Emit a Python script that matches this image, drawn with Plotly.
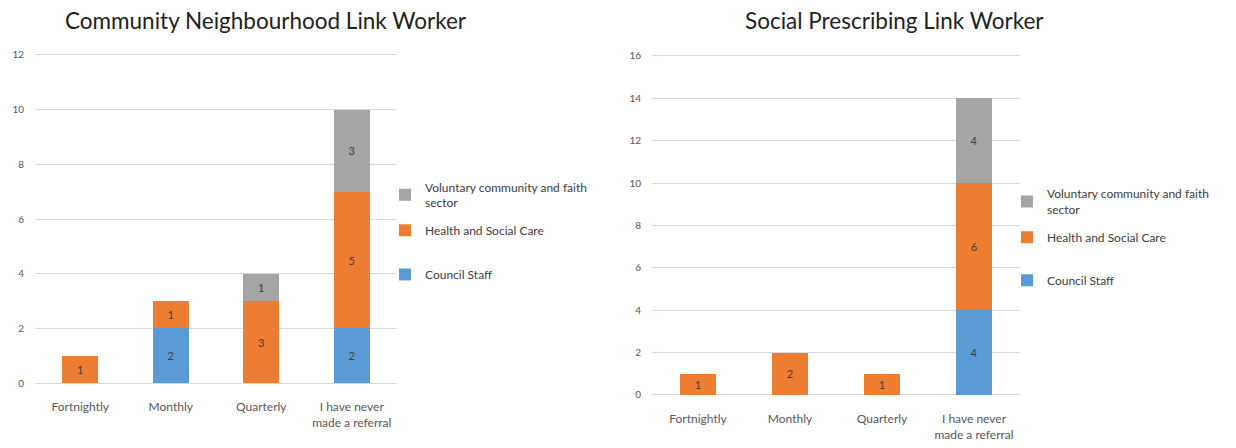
import plotly.graph_objects as go

# Referral frequency categories (x axis)
categories = ["Fortnightly", "Monthly", "Quarterly", "I have never<br>made a referral"]

# Community Neighbourhood Link Worker – respondents by sector
cnlw_council = [None, 2, None, 2]
cnlw_health = [1, 1, 3, 5]
cnlw_voluntary = [None, None, 1, 3]

# Social Prescribing Link Worker – respondents by sector
splw_council = [None, None, None, 4]
splw_health = [1, 2, 1, 6]
splw_voluntary = [None, None, None, 4]

series_names = ["Council Staff", "Health and Social Care", "Voluntary community and faith<br>sector"]
series_colors = ["#5B9BD5", "#ED7D31", "#A5A5A5"]

FONT = "Lato"
W, H = 1236, 448


def px_x(v):
    return v / W


def px_y(v):
    return 1 - v / H


fig = go.Figure()

panels = [
    ("x", "y", [cnlw_council, cnlw_health, cnlw_voluntary], ["legend", "legend2", "legend3"]),
    ("x2", "y2", [splw_council, splw_health, splw_voluntary], ["legend4", "legend5", "legend6"]),
]

for xa, ya, series, legends in panels:
    for name, color, vals, lg in zip(series_names, series_colors, series, legends):
        fig.add_trace(go.Bar(
            x=categories, y=vals, name=name, xaxis=xa, yaxis=ya,
            marker=dict(color=color, line=dict(width=0)),
            texttemplate="%{y}", textposition="inside", insidetextanchor="middle",
            textangle=0, constraintext="none",
            insidetextfont=dict(family=FONT, size=11, color="#404040"),
            legend=lg, showlegend=True, hoverinfo="skip",
        ))

axis_common = dict(
    showline=False, ticks="", showgrid=False,
    tickfont=dict(family=FONT, size=12, color="#595959"),
    ticklabelstandoff=15,
)
yaxis_common = dict(
    showline=False, ticks="", showgrid=True, gridcolor="#D9D9D9", gridwidth=1,
    zeroline=True, zerolinecolor="#D9D9D9", zerolinewidth=1,
    tickfont=dict(family=FONT, size=10, color="#595959"),
    dtick=2, ticklabelstandoff=10,
)

legend_common = dict(
    font=dict(family=FONT, size=12, color="#404040"),
    bgcolor="rgba(0,0,0,0)", borderwidth=0, itemwidth=30, visible=True,
    xanchor="left", yanchor="middle", itemclick=False, itemdoubleclick=False,
)

# legend entries placed individually beside each panel
legend_pos = {
    "legend": (385, 277), "legend2": (385, 232), "legend3": (385, 196),
    "legend4": (1007, 283), "legend5": (1007, 239), "legend6": (1007, 203),
}
legend_layout = {
    k: dict(legend_common, x=px_x(xp), y=px_y(yp)) for k, (xp, yp) in legend_pos.items()
}

fig.update_layout(
    width=W, height=H,
    margin=dict(l=0, r=0, t=0, b=0),
    paper_bgcolor="white", plot_bgcolor="white",
    barmode="stack", bargap=0.6, showlegend=True,
    font=dict(family=FONT),
    xaxis=dict(axis_common, domain=[px_x(35), px_x(397)], anchor="y"),
    yaxis=dict(yaxis_common, domain=[px_y(388), px_y(48.8)], range=[0, 12.15], anchor="x"),
    xaxis2=dict(axis_common, domain=[px_x(652), px_x(1020)], anchor="y2"),
    yaxis2=dict(yaxis_common, domain=[px_y(400), px_y(50.8)], range=[0, 16.15], anchor="x2"),
    annotations=[
        dict(text="Community Neighbourhood Link Worker", x=px_x(266), y=px_y(18),
             xref="paper", yref="paper", showarrow=False, xanchor="center", yanchor="middle",
             font=dict(family=FONT, size=22.5, color="#222222")),
        dict(text="Social Prescribing Link Worker", x=px_x(894), y=px_y(18),
             xref="paper", yref="paper", showarrow=False, xanchor="center", yanchor="middle",
             font=dict(family=FONT, size=22.5, color="#222222")),
    ],
    **legend_layout,
)

fig.write_html("out.html")
